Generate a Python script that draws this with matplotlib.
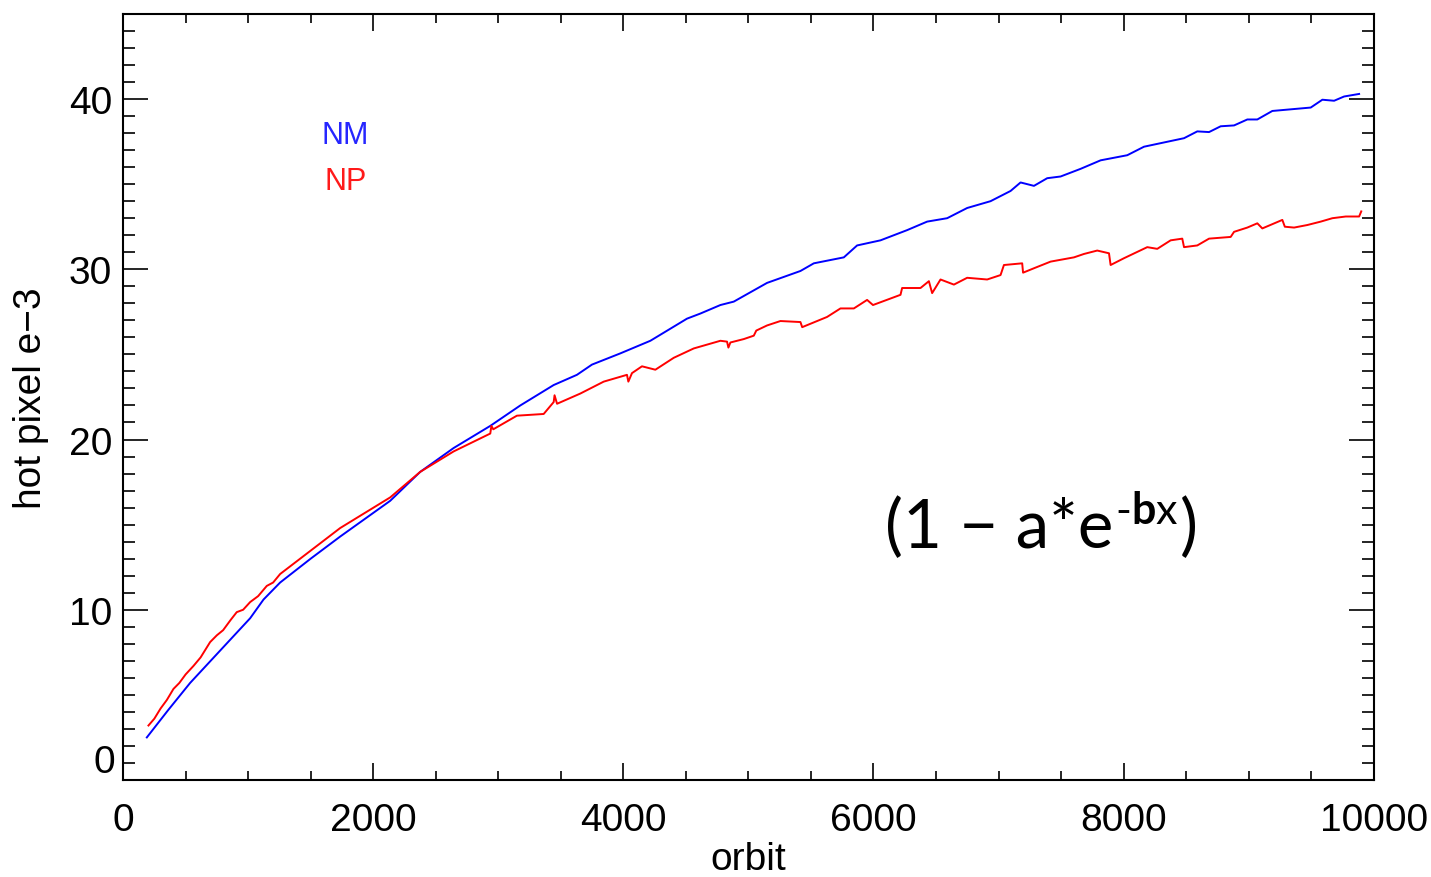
import matplotlib
matplotlib.use("Agg")
import matplotlib.pyplot as plt
from matplotlib.ticker import MultipleLocator
from matplotlib.transforms import blended_transform_factory

plt.rcParams['font.family'] = ['Liberation Sans', 'DejaVu Sans']

# NM hot-pixel count (units of 1e-3) versus orbit number
nm_orbit = [190, 360, 536, 776, 1016, 1123, 1256, 1500, 1736, 2136, 2376, 2643,
            2936, 3176, 3443, 3629, 3749, 3976, 4216, 4509, 4616, 4776, 4883,
            5149, 5416, 5523, 5763, 5869, 6056, 6269, 6429, 6589, 6749, 6936,
            7096, 7176, 7283, 7389, 7496, 7656, 7816, 8029, 8163, 8483, 8589,
            8683, 8776, 8883, 8989, 9069, 9189, 9496, 9589, 9683, 9763, 9883]
nm_value = [2.5, 4.1, 5.7, 7.6, 9.5, 10.6, 11.6, 13.0, 14.3, 16.4, 18.1, 19.5,
            20.8, 22.0, 23.2, 23.8, 24.4, 25.06, 25.8, 27.1, 27.4, 27.9, 28.1,
            29.2, 29.9, 30.35, 30.7, 31.4, 31.7, 32.3, 32.8, 33.0, 33.6, 34.0,
            34.6, 35.1, 34.9, 35.35, 35.45, 35.9, 36.4, 36.7, 37.2, 37.7, 38.1,
            38.06, 38.4, 38.45, 38.8, 38.8, 39.3, 39.5, 39.96, 39.9, 40.15, 40.3]

# NP hot-pixel count (units of 1e-3) versus orbit number
np_orbit = [203, 250, 300, 350, 403, 450, 500, 563, 620, 696, 750, 800, 860,
            909, 960, 1016, 1080, 1149, 1200, 1256, 1736, 2136, 2376, 2643,
            2936, 2945, 2960, 3149, 3363, 3443, 3450, 3470, 3656, 3843, 4029,
            4040, 4069, 4149, 4256, 4403, 4563, 4776, 4829, 4840, 4856, 4963,
            5043, 5063, 5149, 5256, 5416, 5430, 5629, 5736, 5843, 5949, 5996,
            6216, 6229, 6376, 6443, 6469, 6536, 6643, 6749, 6909, 7016, 7043,
            7189, 7196, 7283, 7416, 7603, 7683, 7789, 7883, 7896, 8003, 8189,
            8269, 8376, 8469, 8483, 8589, 8683, 8856, 8883, 8989, 9069, 9109,
            9269, 9289, 9363, 9469, 9576, 9669, 9776, 9883, 9900]
np_value = [3.2, 3.6, 4.2, 4.7, 5.35, 5.7, 6.2, 6.7, 7.2, 8.1, 8.5, 8.8, 9.4,
            9.86, 10.0, 10.45, 10.8, 11.4, 11.6, 12.1, 14.8, 16.6, 18.1, 19.3,
            20.35, 20.8, 20.6, 21.4, 21.5, 22.2, 22.6, 22.1, 22.7, 23.4, 23.8,
            23.4, 23.9, 24.3, 24.1, 24.8, 25.35, 25.8, 25.75, 25.4, 25.7, 25.9,
            26.1, 26.4, 26.7, 26.96, 26.9, 26.6, 27.2, 27.7, 27.7, 28.2, 27.9,
            28.5, 28.9, 28.9, 29.3, 28.6, 29.4, 29.1, 29.5, 29.4, 29.66, 30.25,
            30.35, 29.8, 30.06, 30.45, 30.7, 30.9, 31.1, 30.94, 30.25, 30.65,
            31.3, 31.2, 31.7, 31.8, 31.3, 31.4, 31.8, 31.9, 32.2, 32.45, 32.7,
            32.4, 32.9, 32.5, 32.45, 32.6, 32.8, 33.0, 33.1, 33.1, 33.4]

x_ticks = [0, 2000, 4000, 6000, 8000, 10000]
y_ticks = [0, 10, 20, 30, 40]

fig = plt.figure(figsize=(14.31, 8.78), dpi=100)
ax = fig.add_axes([0.086, 0.1105, 0.874, 0.8725])

ax.plot(nm_orbit, nm_value, color=(0, 0, 1), lw=1.4)
ax.plot(np_orbit, np_value, color=(1, 0, 0), lw=1.4)

ax.set_xlim(0, 10000)
ax.set_ylim(0, 45)
ax.set_xticks(x_ticks)
ax.set_yticks(y_ticks)
ax.xaxis.set_minor_locator(MultipleLocator(500))
ax.yaxis.set_minor_locator(MultipleLocator(1))

for s in ax.spines.values():
    s.set_linewidth(1.5)

ax.tick_params(axis='both', which='both', direction='in', top=True, right=True,
               width=1.2, color='black')
ax.tick_params(axis='x', which='major', length=12, pad=16, labelsize=28)
ax.tick_params(axis='x', which='minor', length=6.5)
ax.tick_params(axis='y', which='major', length=18, pad=8, labelsize=28)
ax.tick_params(axis='y', which='minor', length=8.6)

# the zero label on the y axis sits just above the corner
ax.set_yticklabels([''] + [str(v) for v in y_ticks[1:]])
trans = blended_transform_factory(ax.transAxes, ax.transData)
ax.text(-8 / 1251, 0, '0', transform=trans, ha='right', va='bottom', fontsize=28)

ax.set_xlabel('orbit', fontsize=28, labelpad=2)
ax.set_ylabel('hot pixel e\u22123', fontsize=28, labelpad=14)

ax.text(1776, 37.9, 'NM', color=(0.15, 0.15, 1), fontsize=22, ha='center', va='center')
ax.text(1776, 35.2, 'NP', color=(1, 0.1, 0.1), fontsize=22, ha='center', va='center')

# fitted form annotation
fkw = dict(family=['Lato', 'DejaVu Sans'], color='black')
t1 = ax.text(6096, 13.7, '(1 \u2212 a*e', fontsize=48.5, ha='left', va='baseline', **fkw)
t2 = ax.annotate('-', xy=(1, 0), xycoords=t1, xytext=(1, 26), textcoords='offset points',
                 fontsize=31, ha='left', va='baseline', **fkw)
t3 = ax.annotate('b', xy=(1, 0), xycoords=t2, xytext=(0, 0), textcoords='offset points',
                 fontsize=31, ha='left', va='bottom', weight='bold', **fkw)
t4 = ax.annotate('x', xy=(1, 0), xycoords=t3, xytext=(0, 0), textcoords='offset points',
                 fontsize=31, ha='left', va='bottom', **fkw)
ax.annotate(')', xy=(1, 0), xycoords=(t4, t1), xytext=(2, 0), textcoords='offset points',
            fontsize=48.5, ha='left', va='bottom', **fkw)

fig.savefig('out.png', dpi=100)
